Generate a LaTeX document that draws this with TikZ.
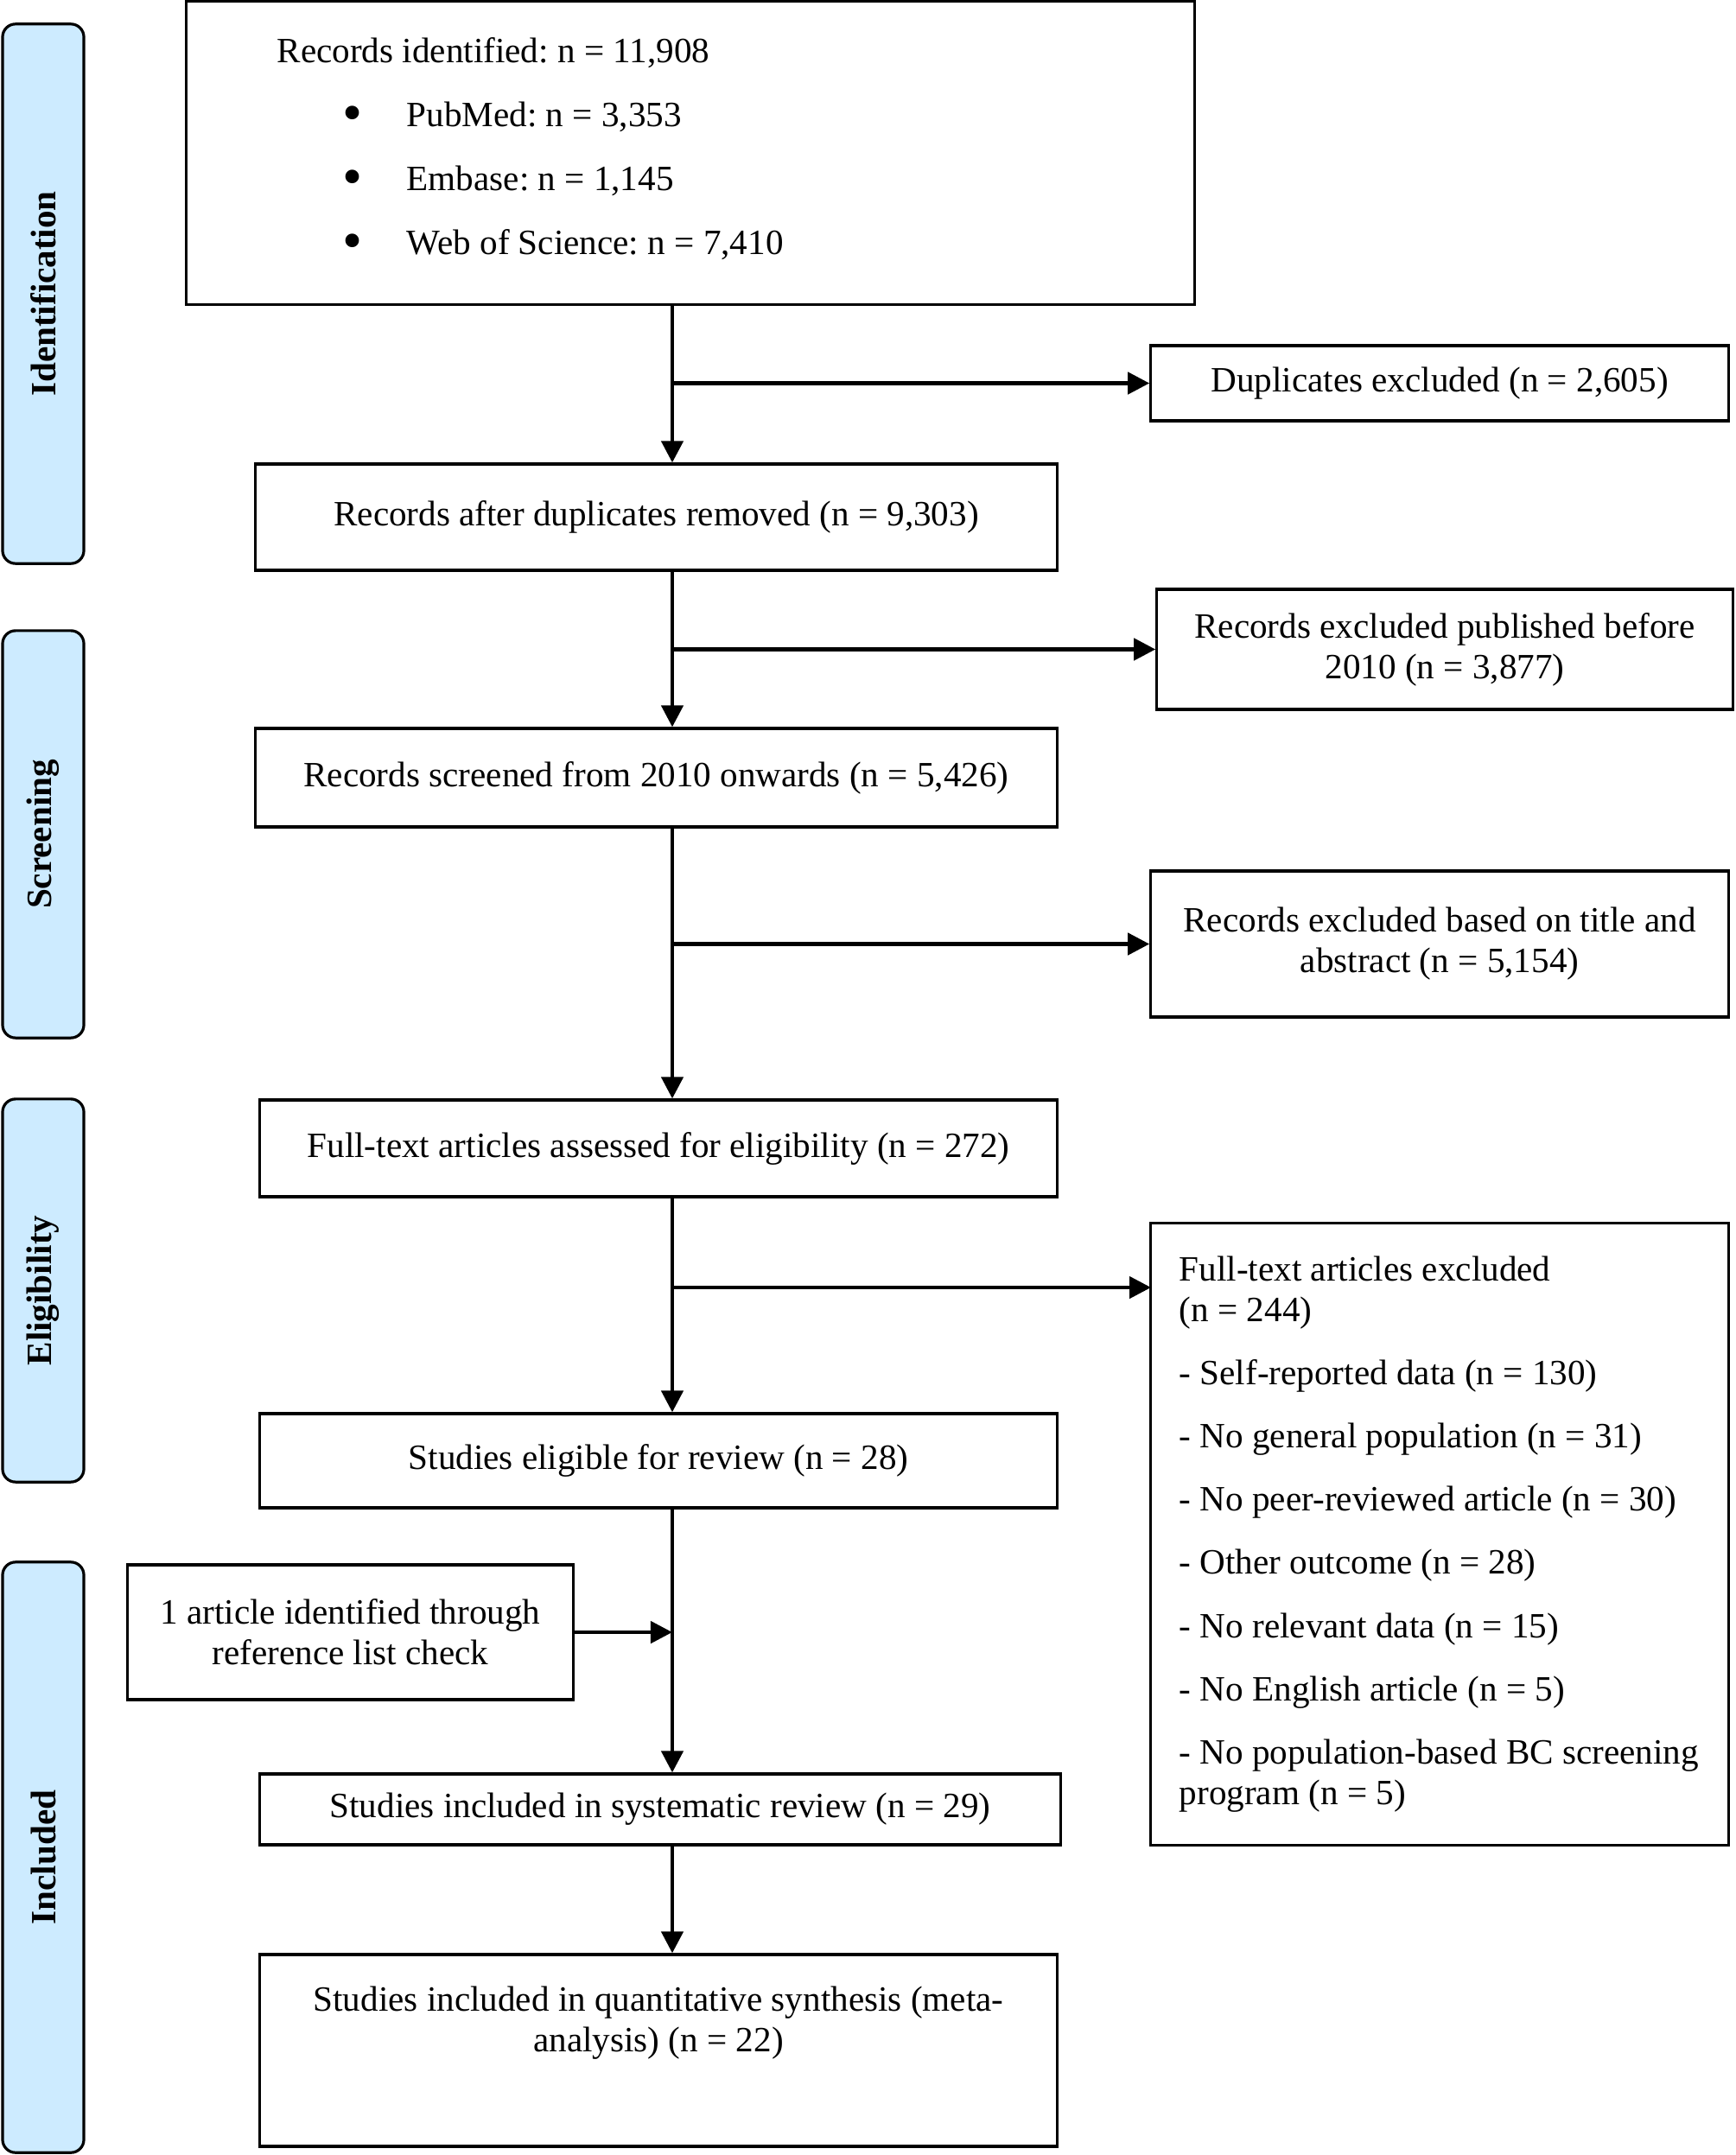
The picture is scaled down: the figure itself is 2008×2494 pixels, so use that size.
\documentclass[tikz,border=0pt]{standalone}
\usepackage{fontspec}
\setmainfont{Liberation Serif}
\usetikzlibrary{arrows.meta}

\definecolor{laneblue}{RGB}{205,235,255}

\newcommand{\listdot}{\raisebox{-0.06cm}{\scalebox{1.6}{\textbullet}}}

\tikzset{
  box/.style = {draw, line width=0.032cm, inner sep=0pt, align=center,
    font=\fontsize{11.7}{13.4}\selectfont\frenchspacing},
  lane/.style = {draw, line width=0.032cm, rounded corners=0.15cm, fill=laneblue,
    rotate=90, minimum height=0.94cm, inner sep=0pt,
    font=\fontsize{11.7}{13.4}\selectfont\bfseries},
  flow/.style = {line width=0.045cm, -{Triangle[length=0.25cm, width=0.25cm]}}
}

\begin{document}
\begin{tikzpicture}[x=0.01cm, y=-0.01cm]
 \useasboundingbox (0,0) rectangle (2008,2494);

 % phases
 \node (idlane) [lane, minimum width=6.24cm] at (50,340) {Identification};
 \node (sclane) [lane, minimum width=4.71cm] at (50,965.5) {Screening};
 \node (ellane) [lane, minimum width=4.43cm] at (50,1493.5) {Eligibility};
 \node (inlane) [lane, minimum width=6.83cm] at (50,2149.5) {Included};

 % main column
 \node (ident) [box, minimum width=11.66cm, minimum height=3.5cm] at (799,177) {};
 \node (identtxt) [anchor=north west, align=flush left, inner sep=0pt,
   font=\fontsize{11.7}{21}\selectfont\frenchspacing] at (320,43)
   {Records identified: n = 11,908\\
    \hspace*{0.76cm}\makebox[0.74cm][l]{\listdot}PubMed: n = 3,353\\
    \hspace*{0.76cm}\makebox[0.74cm][l]{\listdot}Embase: n = 1,145\\
    \hspace*{0.76cm}\makebox[0.74cm][l]{\listdot}Web of Science: n = 7,410};
 \node (dedup) [box, minimum width=9.27cm, minimum height=1.23cm] at (759.5,598.5)
   {Records after duplicates removed (n = 9,303)};
 \node (screen) [box, minimum width=9.27cm, minimum height=1.14cm] at (759.5,900)
   {Records screened from 2010 onwards (n = 5,426)};
 \node (fulltext) [box, minimum width=9.22cm, minimum height=1.12cm] at (762,1329)
   {Full-text articles assessed for eligibility (n = 272)};
 \node (eligible) [box, minimum width=9.22cm, minimum height=1.09cm] at (762,1690.5)
   {Studies eligible for review (n = 28)};
 \node (sysrev) [box, minimum width=9.26cm, minimum height=0.82cm] at (764,2094)
   {Studies included in systematic review (n = 29)};
 \node (meta) [box, minimum width=9.22cm, minimum height=2.22cm] at (762,2373)
   {Studies included in quantitative synthesis (meta-\\analysis) (n = 22)\\[0.26cm]\mbox{}};

 % exclusions
 \node (dupl) [box, minimum width=6.68cm, minimum height=0.87cm] at (1666,443.5)
   {Duplicates excluded (n = 2,605)};
 \node (before) [box, minimum width=6.66cm, minimum height=1.39cm] at (1672,751.5)
   {Records excluded published before\\2010 (n = 3,877)};
 \node (title) [box, minimum width=6.68cm, minimum height=1.69cm] at (1666,1092.5)
   {Records excluded based on title and\\abstract (n = 5,154)};
 \node (excl) [box, text width=6.02cm, inner xsep=0.33cm, minimum height=7.19cm,
   align=flush left] at (1666,1775.5)
   {Full-text articles excluded\\
    (n = 244)\\[0.26cm]
    - Self-reported data (n = 130)\\[0.26cm]
    - No general population (n = 31)\\[0.26cm]
    - No peer-reviewed article (n = 30)\\[0.26cm]
    - Other outcome (n = 28)\\[0.26cm]
    - No relevant data (n = 15)\\[0.26cm]
    - No English article (n = 5)\\[0.26cm]
    \mbox{- No population-based BC screening}\\
    program (n = 5)};
 \node (refcheck) [box, minimum width=5.15cm, minimum height=1.56cm] at (405.5,1889)
   {1 article identified through\\reference list check};

 \coordinate (spine) at (778,0);
 \coordinate (exclin) at (1332,1490);

 % arrows
 \draw [flow] (ident.south -| spine) -- (dedup.north -| spine);
 \draw [flow] (dupl.west -| spine) -- (dupl.west);
 \draw [flow] (dedup.south -| spine) -- (screen.north -| spine);
 \draw [flow] (before.west -| spine) -- (before.west);
 \draw [flow] (screen.south -| spine) -- (fulltext.north -| spine);
 \draw [flow] (title.west -| spine) -- (title.west);
 \draw [flow] (fulltext.south -| spine) -- (eligible.north -| spine);
 \draw [flow] (exclin -| spine) -- (exclin);
 \draw [flow] (eligible.south -| spine) -- (sysrev.north -| spine);
 \draw [flow] (refcheck.east) -- (refcheck.east -| spine);
 \draw [flow] (sysrev.south -| spine) -- (meta.north -| spine);
\end{tikzpicture}
\end{document}
